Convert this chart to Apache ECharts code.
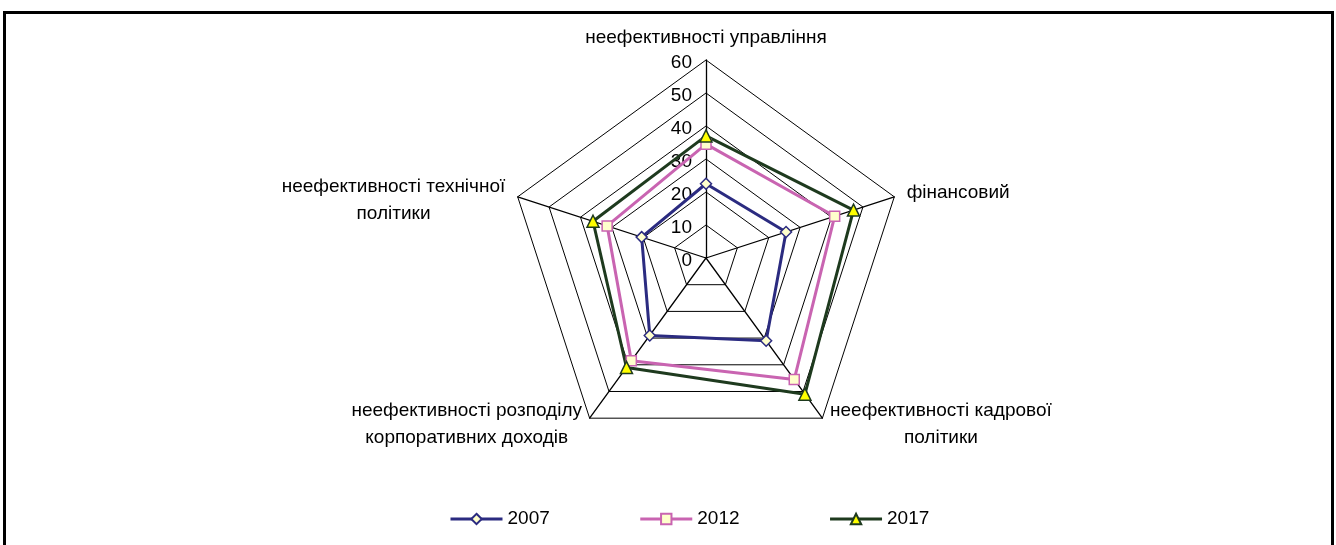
<!DOCTYPE html>
<html><head><meta charset="utf-8">
<script src="https://cdn.jsdelivr.net/npm/echarts@6/dist/echarts.min.js"></script>
<style>
html,body{margin:0;padding:0;background:#fff;}
#c{position:absolute;left:0;top:0;width:1336px;height:545px;}
#frame{position:absolute;left:3px;top:11px;width:1331px;height:600px;border:3px solid #000;box-sizing:border-box;pointer-events:none;}
</style>
</head><body><div id="c"></div><div id="frame"></div>
<script>
// Data (clockwise from top, as in the reference)
const indicatorNames = [
  'неефективності управління',
  'фінансовий',
  'неефективності кадрової\nполітики',
  'неефективності розподілу\nкорпоративних доходів',
  'неефективності технічної\nполітики'
];
const years = ['2007', '2012', '2017'];
const v2007 = [22.5, 25.5, 31, 29, 20.5];
const v2012 = [34.5, 41, 45.5, 38.5, 31.5];
const v2017 = [37, 47, 51, 41, 36];
const tickMin = 0, tickMax = 60, tickStep = 10;

const FONT = '"Liberation Sans", Arial, sans-serif';
const center = [706, 258];
const radius = 198;

const styles = [
  {line: '#2b2b80', fill: '#ffffcc', symbol: 'diamond', size: 11},
  {line: '#c964b1', fill: '#ffffcc', symbol: 'rect', size: 10},
  {line: '#1e3a1e', fill: '#ffff00', symbol: 'triangle', size: 12}
];
const seriesValues = [v2007, v2012, v2017];

// ECharts radar places indicators counter-clockwise; reorder to keep clockwise layout
const order = [0, 4, 3, 2, 1];
const indicator = order.map(i => ({name: indicatorNames[i], min: tickMin, max: tickMax}));

// per-label vertical fine tuning through rich text
function nameFmt(n) {
  const idx = indicatorNames.indexOf(n);
  if (idx === 0) return '{t|' + n + '}';
  if (idx === 4) return '{s| }\n{a|' + n.split('\n').join('}\n{a|') + '}';
  if (idx === 2 || idx === 3) return '{a|' + n.split('\n').join('}\n{a|') + '}\n{u| }';
  return '{a|' + n + '}';
}

const chart = echarts.init(document.getElementById('c'), null, {renderer: 'canvas'});
chart.setOption({
  animation: false,
  backgroundColor: '#fff',
  textStyle: {fontFamily: FONT},
  grid: {show: false, left: 0, top: 0, width: 1, height: 1},
  xAxis: {show: false, type: 'category', data: []},
  yAxis: {show: false, type: 'value'},
  legend: {
    data: years,
    left: 444,
    top: 503,
    itemWidth: 52,
    itemHeight: 13,
    itemGap: 89,
    lineStyle: {width: 3},
    textStyle: {fontFamily: FONT, fontSize: 19, color: '#000', lineHeight: 22}
  },
  polar: {center: center, radius: radius},
  angleAxis: {type: 'value', startAngle: 90, min: 0, max: 360, show: false},
  radiusAxis: {
    type: 'value', min: tickMin, max: tickMax, interval: tickStep,
    axisLine: {show: false}, axisTick: {show: false}, splitLine: {show: false},
    axisLabel: {
      show: true, fontSize: 19, color: '#000', fontFamily: FONT, margin: 14,
      formatter: function (v) { return '{v|' + v + '}'; },
      rich: {v: {fontSize: 19, fontFamily: FONT, color: '#000', padding: [5, 0, 0, 0]}}
    }
  },
  radar: {
    center: center,
    radius: radius,
    startAngle: 90,
    shape: 'polygon',
    splitNumber: 6,
    nameGap: 13,
    indicator: indicator,
    axisName: {
      color: '#000',
      fontSize: 19,
      fontFamily: FONT,
      formatter: nameFmt,
      rich: {
        a: {align: 'center', fontSize: 19, fontFamily: FONT, color: '#000', lineHeight: 27},
        t: {align: 'center', fontSize: 19, fontFamily: FONT, color: '#000', lineHeight: 18},
        s: {fontSize: 10, lineHeight: 14},
        u: {fontSize: 6, lineHeight: 8}
      }
    },
    axisLine: {lineStyle: {color: '#000', width: 1.3}},
    splitLine: {lineStyle: {color: '#000', width: 1}},
    splitArea: {show: false},
    axisTick: {show: false},
    axisLabel: {show: false}
  },
  series: years.map((y, k) => ({
    type: 'line', name: y, data: [],
    symbol: styles[k].symbol, symbolSize: styles[k].size,
    lineStyle: {color: styles[k].line, width: 3},
    itemStyle: {color: styles[k].fill, borderColor: styles[k].line, borderWidth: 1.5}
  })).concat(years.map((y, k) => ({
    type: 'radar', name: y,
    data: [{
      name: y,
      value: order.map(i => seriesValues[k][i]),
      symbol: styles[k].symbol,
      symbolSize: styles[k].size,
      lineStyle: {color: styles[k].line, width: 3},
      itemStyle: {color: styles[k].fill, borderColor: styles[k].line, borderWidth: 1.5}
    }]
  })))
});
</script>
</body></html>
